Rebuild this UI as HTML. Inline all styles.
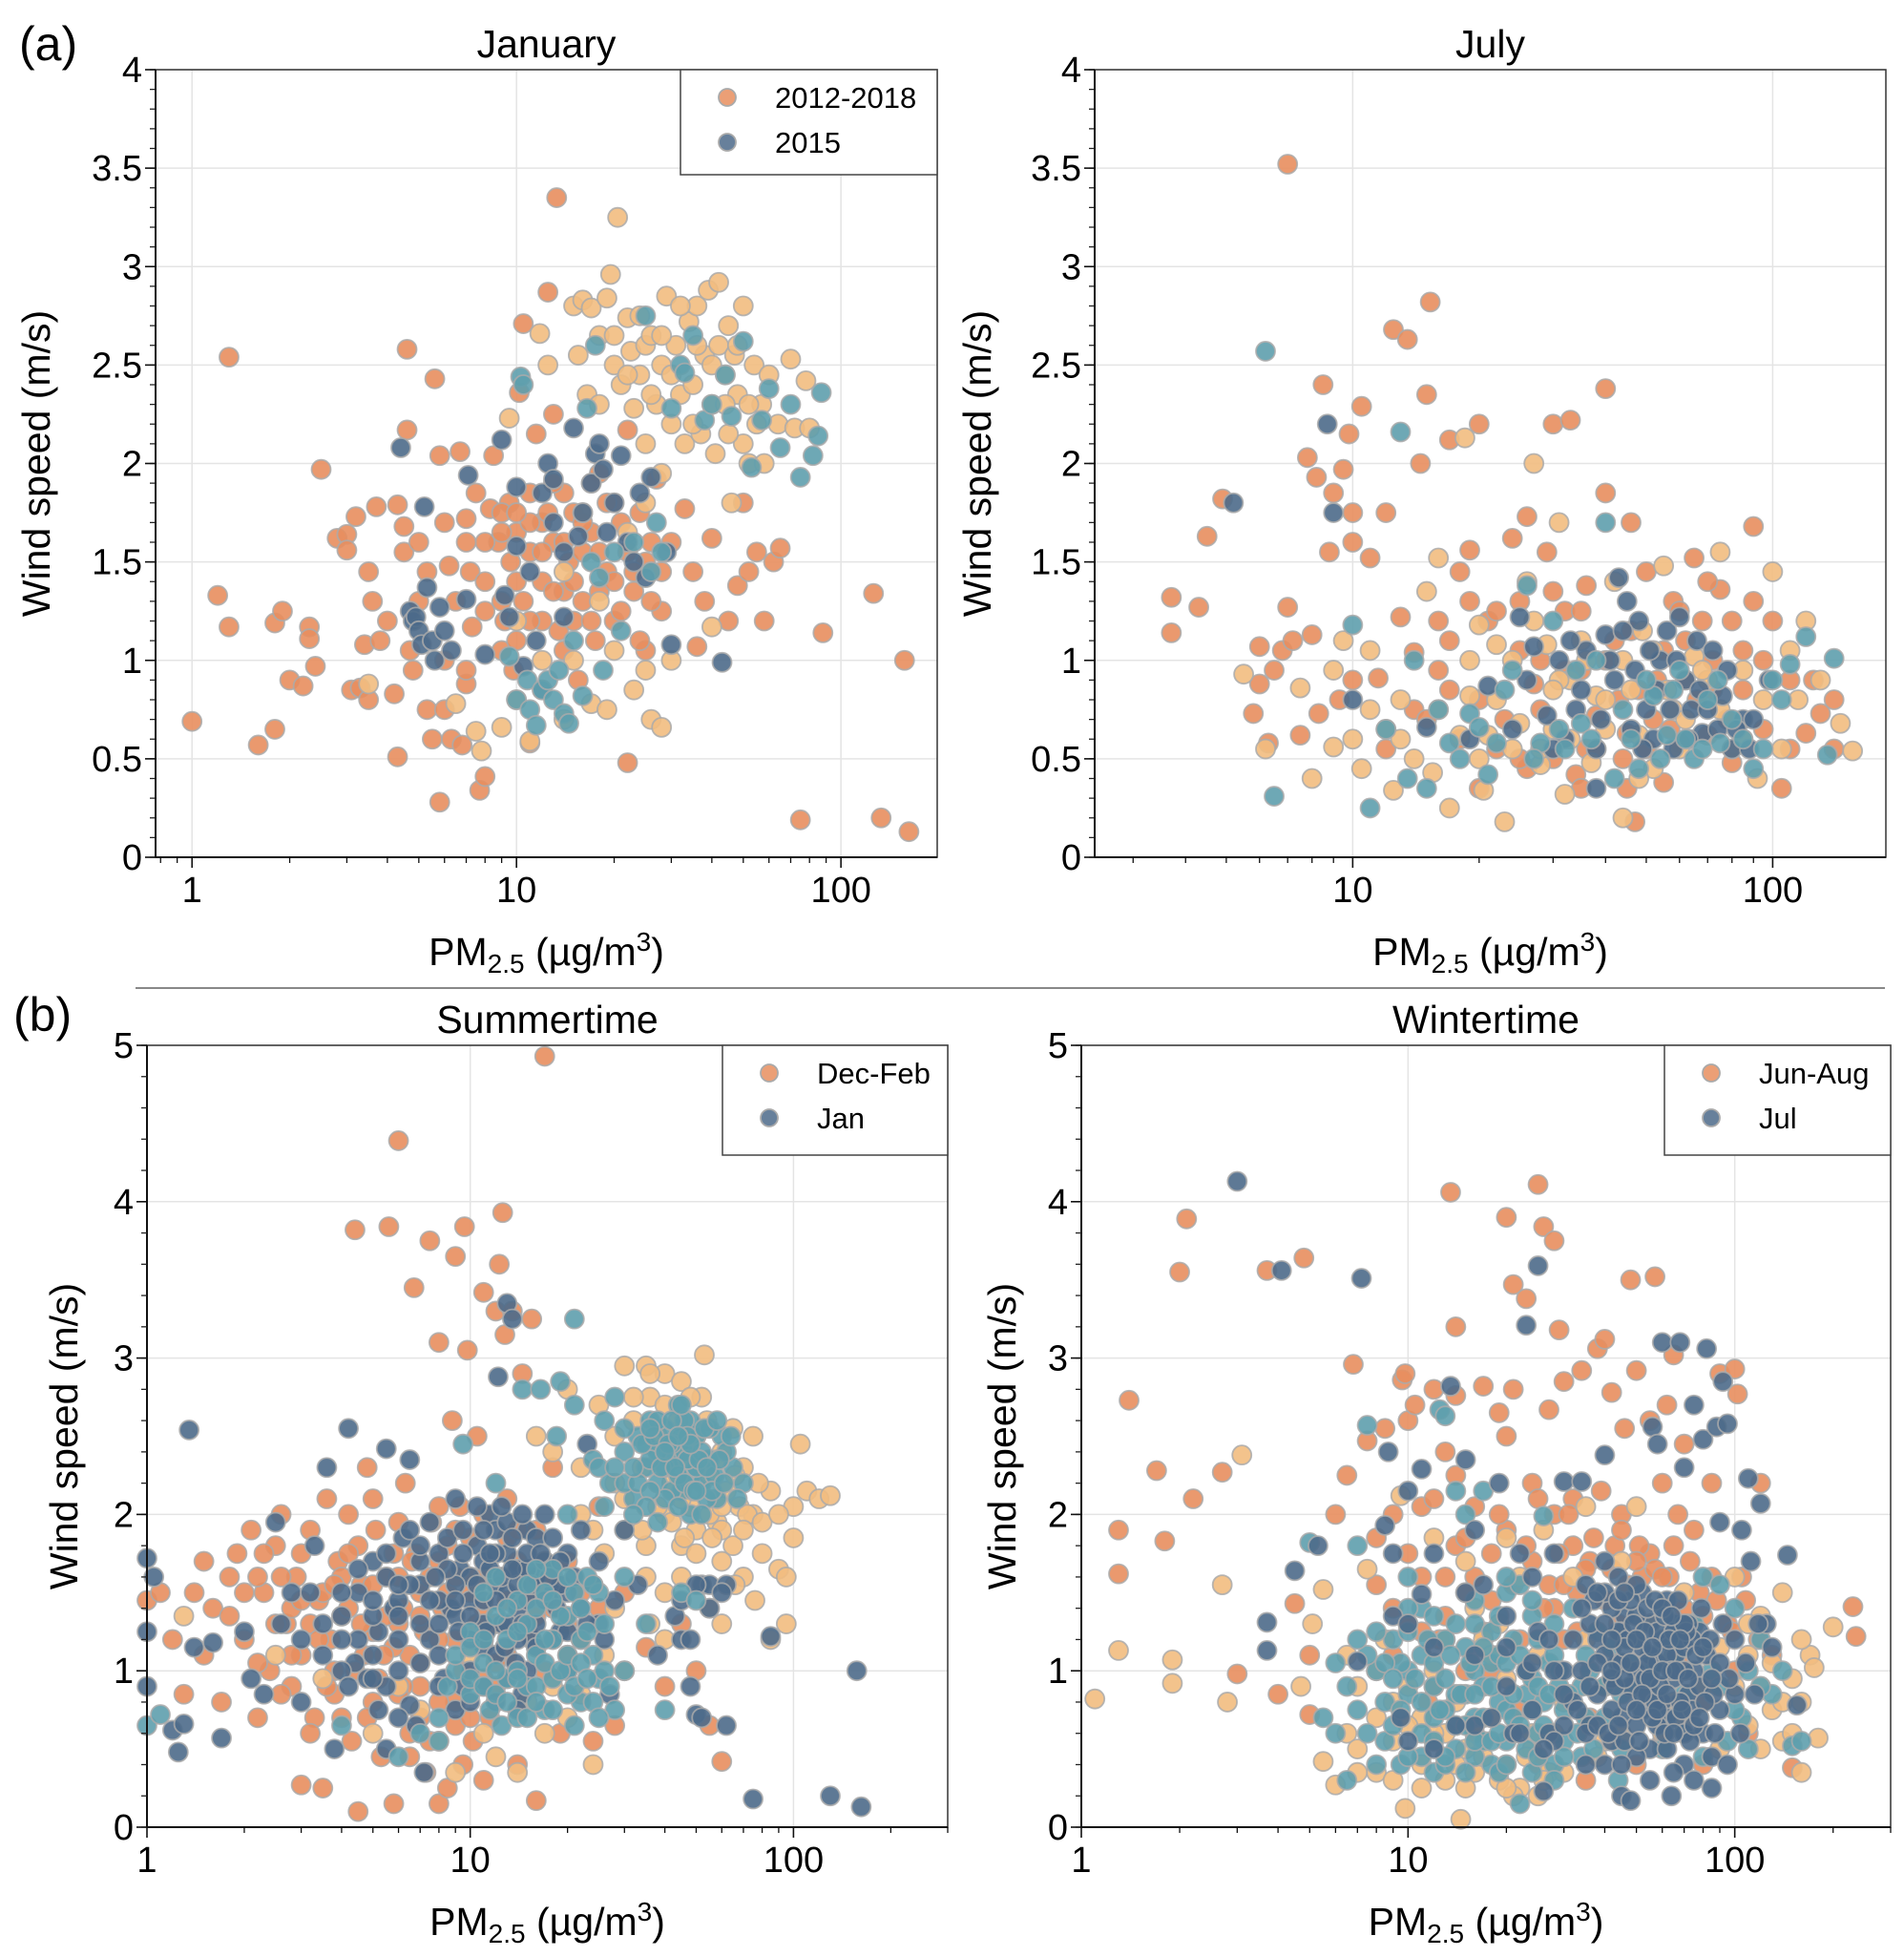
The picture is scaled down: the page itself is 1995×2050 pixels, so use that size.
<!DOCTYPE html>
<html><head><meta charset="utf-8">
<style>
html,body{margin:0;padding:0;background:#fff;}
svg{display:block;font-family:"Liberation Sans",Arial,sans-serif;}
</style></head>
<body>
<svg id="fig" width="1995" height="2050" viewBox="0 0 1995 2050" xmlns="http://www.w3.org/2000/svg">
<rect x="0" y="0" width="1995" height="2050" fill="#fff"/>
<text x="20" y="63" font-size="50">(a)</text>
<text x="14" y="1080" font-size="50">(b)</text>
<line x1="142" y1="1035" x2="1975" y2="1035" stroke="#888" stroke-width="2"/>
</svg>
<script>
// ---------- DATA ----------
const janOrange=[[1,0.69],[1.2,1.33],[1.3,2.54],[1.3,1.17],[1.6,0.57],[1.8,0.65],[1.8,1.19],[1.9,1.25],[2,0.9],[2.2,0.87],[2.3,1.17],[2.3,1.11],[2.4,0.97],[2.5,1.97],[2.8,1.62],[3,1.64],[3,1.56],[3.2,1.73],[3.1,0.85],[3.3,0.86],[3.4,1.08],[3.5,0.8],[3.6,1.3],[3.7,1.78],[3.8,1.1],[4.2,0.83],[4.3,0.51],[4.3,1.79],[4.5,1.68],[4.5,1.55],[4.6,2.58],[4.6,2.17],[4.7,1.05],[4.8,0.95],[5,1.6],[5.3,1.45],[5.3,0.75],[5.5,0.6],[5.6,2.43],[5.8,2.04],[5.8,0.28],[6,1.7],[6.2,1.48],[6.3,0.6],[6.5,1.3],[6.7,2.06],[6.8,0.57],[7,1.72],[7,0.88],[7.2,1.45],[7.3,1.17],[7.5,1.85],[7.7,0.34],[8,1.4],[8,0.41],[8.3,1.77],[8.5,2.04],[8.8,1.6],[9,1.05],[9.2,1.2],[9.5,1.8],[9.6,1.5],[9.8,0.95],[10,1.65],[10.2,2.36],[10.5,1.3],[10.5,2.71],[11,1.85],[11,0.58],[11.5,2.15],[12,1.7],[12,1.4],[12.5,2.87],[13,1.6],[13,2.25],[13.3,3.35],[13.5,1.15],[14,1.85],[14.5,1.5],[15,1.75],[15.5,0.9],[16,1.3],[17,1.65],[17.5,1.1],[18,1.95],[19,1.45],[20,1.2],[21,1.7],[22,2.17],[22,0.48],[23,1.35],[25,1.5],[25,1.05],[27,1.92],[28,1.25],[30,1.6],[33,1.77],[35,1.45],[36,1.07],[38,1.3],[40,1.62],[45,1.2],[48,1.38],[50,1.8],[52,1.45],[55,1.55],[58,1.2],[62,1.5],[65,1.57],[75,0.19],[88,1.14],[126,1.34],[133,0.2],[157,1.0],[162,0.13],[8,1.6],[9,1.3],[10,1.4],[11,1.55],[12,1.2],[13,1.9],[14,1.35],[15,1.2],[16,1.55],[17,1.9],[18,1.35],[20,1.8],[22,1.55],[24,1.75],[26,1.6],[11,1.7],[10,1.1],[9,1.75],[14,1.05],[12.5,1.75]];
const janOrange2=[[6,1.0],[7,1.6],[8,1.25],[9,1.65],[10,1.75],[11,1.2],[12,1.55],[13,1.35],[14,1.6],[15,1.4],[16,1.7],[17,1.2],[18,1.55],[19,1.8],[20,1.4],[21,1.25],[23,1.45],[24,1.1],[26,1.3],[28,1.45],[6,0.75],[7,0.95],[5,1.3],[4,1.2],[3.5,1.45]];
const janLight=[[3.5,0.88],[6.5,0.78],[7.5,0.64],[7.8,0.54],[9,0.66],[9.5,2.23],[10,0.8],[11,0.59],[11.8,2.66],[12.5,2.5],[14,0.7],[15,2.8],[15.5,2.55],[16,2.83],[16.5,2.35],[17,2.79],[17,0.78],[18,2.65],[19,2.84],[19.5,2.96],[19,0.75],[20,2.5],[20.5,3.25],[21,2.4],[22,2.74],[22.5,2.57],[23,2.28],[23,0.85],[24,2.45],[25,2.6],[25,2.1],[26,2.65],[26,0.7],[27,2.3],[28,2.5],[28,0.66],[29,2.85],[30,2.2],[31,2.6],[32,2.35],[33,2.1],[34,2.72],[35,2.4],[36,2.8],[37,2.15],[38,2.55],[39,2.88],[40,2.3],[41,2.05],[42,2.6],[42,2.92],[44,2.45],[45,2.7],[46,1.8],[47,2.55],[48,2.35],[50,2.8],[50,2.1],[52,2.0],[54,2.5],[57,2.3],[58,2.0],[60,2.45],[64,2.2],[70,2.53],[72,2.18],[78,2.42],[80,2.18],[40,1.17],[30,1.0],[25,0.95],[20,1.05],[15,1.0],[18,1.3],[22,1.65],[12,1.0],[14,1.45],[16,1.75],[10,1.2]];
const janLight2=[[20,2.65],[24,2.75],[28,2.65],[32,2.8],[36,2.6],[40,2.5],[44,2.3],[48,2.6],[52,2.3],[30,2.45],[26,2.35],[22,2.45],[18,2.3],[35,2.2],[45,2.15],[55,2.2],[25,1.8],[28,1.95]];
const janDark=[[4.4,2.08],[4.7,1.25],[4.8,1.2],[4.9,1.22],[5,1.15],[5.1,1.08],[5.2,1.78],[5.3,1.37],[5.5,1.1],[5.6,1.0],[5.8,1.27],[6,1.15],[6.3,1.05],[7,1.31],[7.1,1.94],[8,1.03],[9,2.12],[9.2,1.33],[9.5,1.22],[10,1.88],[10,1.58],[10.5,0.97],[11,1.45],[11.5,1.1],[12,1.85],[12.5,2.0],[12,0.85],[13,1.7],[13,1.92],[14,1.55],[14,1.22],[15,2.18],[15.5,1.63],[16,1.75],[17,1.9],[17.5,2.05],[18,2.1],[18.5,1.97],[19,1.65],[20,1.8],[21,2.04],[22,1.6],[23,1.5],[24,1.85],[25,1.42],[26,1.93],[29,1.55],[30,1.08],[43,0.99]];
const janTeal=[[9.5,1.02],[10,0.8],[10.3,2.44],[10.5,2.4],[10.8,0.9],[11,0.75],[11.5,0.67],[12,0.85],[12.5,0.9],[13,0.8],[13.5,0.95],[14,0.73],[14.5,0.68],[15,1.1],[16,0.82],[16.5,2.28],[17,1.5],[17.5,2.6],[18,1.42],[18.5,0.95],[20,1.55],[21,1.15],[23,1.6],[25,2.75],[26,1.45],[27,1.7],[28,1.55],[30,2.28],[32,2.5],[33,2.46],[35,2.65],[38,2.22],[40,2.3],[44,2.45],[46,2.24],[50,2.62],[53,1.98],[57,2.22],[60,2.38],[65,2.08],[70,2.3],[75,1.93],[82,2.04],[85,2.14],[87,2.36]];

const julOrange=[[3.7,1.32],[3.7,1.14],[4.3,1.27],[4.5,1.63],[4.9,1.82],[5.8,0.73],[6,1.07],[6,0.88],[6.3,0.58],[6.5,0.95],[6.8,1.05],[7,3.52],[7,1.27],[7.2,1.1],[7.5,0.62],[7.8,2.03],[8,1.13],[8.2,1.93],[8.3,0.73],[8.5,2.4],[8.8,1.55],[9,1.85],[9.3,0.8],[9.5,1.97],[9.8,2.15],[10,1.6],[10,1.75],[10.5,2.29],[11,1.52],[11.5,0.91],[12,1.75],[12.5,2.68],[13,1.22],[13.5,2.63],[14,1.04],[14.5,2.0],[15,2.35],[15.3,2.82],[16,1.2],[17,2.12],[17,0.85],[18,1.45],[19,1.56],[20,2.2],[21,1.2],[22,0.55],[23,0.7],[24,1.62],[25,1.3],[26,1.73],[27,0.88],[28,1.0],[29,1.55],[30,2.2],[32,1.25],[33,2.22],[35,0.95],[36,1.38],[38,0.72],[40,2.38],[40,1.85],[42,1.1],[44,0.5],[45,0.63],[46,1.7],[48,0.85],[50,1.45],[52,0.7],[55,1.05],[58,1.3],[60,0.58],[62,0.9],[65,1.52],[68,1.2],[70,0.62],[72,0.85],[75,1.36],[80,0.48],[85,1.05],[90,1.68],[95,0.65],[100,1.2],[105,0.35],[110,0.9],[120,0.63],[130,0.73],[140,0.8],[26,0.45],[34,0.42],[47,0.18],[36,0.55],[55,0.38]];
const julOrange2=[[10,0.9],[12,0.55],[14,0.75],[16,0.95],[18,0.6],[20,0.8],[22,1.25],[25,1.05],[28,0.75],[30,1.35],[32,0.95],[35,1.25],[38,0.55],[40,1.0],[43,0.8],[46,1.15],[50,0.55],[53,0.9],[57,0.65],[62,1.1],[66,0.8],[72,1.0],[78,0.7],[85,0.85],[95,1.0],[110,0.55],[125,0.9],[140,0.55],[45,0.35],[35,0.35],[25,0.5],[30,0.5],[60,1.25],[70,1.4],[80,1.2],[90,1.3],[20,0.35],[15,0.7],[17,1.1],[19,1.3]];
const julLight=[[5.5,0.93],[6.2,0.55],[7.5,0.86],[8,0.4],[9,0.56],[9.5,1.1],[10,0.6],[10.5,0.45],[11,1.05],[12,0.65],[12.5,0.34],[13,0.8],[14,0.5],[15,1.35],[15.5,0.43],[16,1.52],[17,0.25],[18,0.62],[18.5,2.13],[19,0.82],[20,1.18],[20.5,0.34],[21,0.62],[22,1.08],[23,0.18],[24,1.0],[25,0.68],[26,1.4],[27,2.0],[28,0.47],[29,1.08],[30,0.65],[31,1.7],[32,0.32],[33,0.9],[35,1.1],[37,0.48],[40,0.65],[42,1.4],[44,0.2],[46,0.85],[49,1.15],[52,0.45],[55,1.48],[58,0.75],[60,0.55],[65,1.02],[70,0.9],[75,1.55],[80,0.55],[85,0.95],[92,0.4],[100,1.45],[105,0.55],[115,0.8],[130,0.9],[145,0.68],[155,0.54],[28,0.55],[38,0.82],[48,0.62],[20,0.5],[31,0.9]];
const julLight2=[[9,0.95],[11,0.75],[13,0.6],[16,0.75],[19,1.0],[22,0.8],[24,0.55],[27,1.2],[30,0.85],[33,0.6],[36,1.0],[40,0.8],[44,1.0],[48,0.4],[52,1.05],[56,0.85],[62,0.7],[68,0.95],[75,0.75],[85,0.6],[95,0.8],[110,1.05],[120,1.2]];
const julDark=[[5.2,1.8],[8.7,2.2],[9,1.75],[10,0.8],[15,0.66],[19,0.6],[21,0.87],[24,0.65],[25,1.22],[27,1.07],[29,0.72],[31,1.0],[32,0.6],[34,0.75],[36,1.05],[38,0.55],[40,1.13],[42,0.9],[45,1.3],[46,0.65],[48,1.2],[50,0.75],[52,0.6],[54,1.0],[56,1.15],[58,0.55],[60,1.22],[62,0.9],[64,0.75],[66,1.1],[68,0.63],[72,1.05],[76,0.82],[80,0.55],[85,0.7],[90,0.7],[98,0.9],[43,1.42],[38,0.35]];
const julDark2=[[26,0.9],[30,0.55],[33,1.1],[35,0.85],[39,0.7],[41,1.0],[44,1.15],[47,0.95],[49,0.55],[51,1.05],[53,0.85],[57,0.75],[59,1.0],[63,0.6],[67,0.85],[70,0.75],[74,0.65],[78,0.95],[82,0.65],[88,0.55]];
const julTeal=[[6.5,0.31],[6.2,2.57],[10,1.18],[11,0.25],[12,0.65],[13,2.16],[13.5,0.4],[14,1.0],[15,0.35],[17,0.58],[18,0.5],[19,0.73],[20,0.66],[21,0.42],[22,0.58],[24,0.95],[26,1.38],[28,0.58],[30,1.2],[32,0.55],[35,0.68],[38,1.0],[40,1.7],[42,0.4],[44,0.75],[48,0.45],[52,0.82],[56,0.62],[60,0.95],[65,0.5],[70,0.8],[75,0.58],[80,0.7],[90,0.45],[100,0.9],[105,0.8],[120,1.12],[135,0.52],[140,1.01],[110,0.98]];
const julTeal2=[[16,0.75],[23,0.85],[27,0.5],[31,0.65],[34,0.95],[37,0.6],[46,0.6],[50,0.9],[54,0.5],[58,0.85],[62,0.6],[68,0.55],[74,0.9],[85,0.6],[95,0.55]];

const sumOrange=[[1,1.45],[1.1,1.5],[1.2,1.2],[1.3,0.85],[1.4,1.5],[1.5,1.7],[1.6,1.4],[1.7,0.8],[1.8,1.6],[1.9,1.75],[2,1.2],[2.1,1.9],[2.2,0.7],[2.3,1.5],[2.4,1.0],[2.5,1.8],[2.6,2.0],[2.7,1.3],[2.8,0.9],[2.9,1.6],[3,0.27],[3,1.1],[3.2,1.9],[3.3,0.7],[3.4,1.45],[3.5,0.25],[3.6,2.1],[3.7,1.2],[3.8,0.85],[3.9,1.7],[4,1.35],[4.2,2.0],[4.3,0.55],[4.4,3.82],[4.5,0.1],[4.6,1.55],[4.7,1.1],[4.8,2.3],[5,0.8],[5.1,1.9],[5.3,0.45],[5.5,1.6],[5.6,3.84],[5.8,0.15],[6,4.39],[6,1.3],[6.3,2.2],[6.5,0.6],[6.7,3.45],[6.8,1.75],[7,1.05],[7.3,0.35],[7.5,3.75],[7.6,1.95],[8,3.1],[8,0.15],[8.2,1.4],[8.5,0.25],[8.8,2.6],[9,0.8],[9,3.65],[9.3,2.05],[9.6,3.84],[9.8,3.05],[10,1.6],[10.2,0.55],[10.5,2.5],[11,3.42],[11,1.2],[11.5,0.7],[12,3.3],[12.3,3.6],[12.6,3.93],[12.8,3.15],[13,1.85],[13.5,3.3],[14,0.4],[14.5,2.9],[15,1.5],[15.5,3.25],[16,0.17],[17,4.93],[17,1.0],[18,2.3],[19,0.6],[20,1.7],[22,1.2],[24,0.55],[25,2.05],[28,0.65],[30,1.5],[35,1.15],[40,0.9],[45,1.3],[50,1.0],[55,0.65],[60,0.42],[7,1.5],[8,1.7],[9,1.2],[10,1.85],[11,1.6],[12,1.3],[13,1.1],[14,1.7],[15,1.25],[16,1.9],[5,1.25],[6,1.6],[7,0.9],[4,1.6],[3.5,1.5],[2.5,1.3],[3,1.75],[4.5,1.8],[5.5,1.35],[6.5,1.1],[8.5,1.5],[9.5,1.0],[10.5,1.3],[18,1.4],[20,1.1],[25,1.4],[12,0.9],[14,1.45],[16,1.55],[9,1.9],[11,2.0],[13,2.1],[8,2.05],[6,1.95],[3.2,1.3],[3.8,1.0],[4.2,1.4],[5,2.1],[6.2,0.9],[7.2,1.25],[2.2,1.6],[2.8,1.4],[4.8,0.7],[5.8,1.15]];
const sumOrange2=[[2,1.5],[2.3,1.75],[2.6,1.6],[3,1.45],[3.4,1.2],[3.8,1.55],[4.2,1.75],[4.6,1.3],[5,1.55],[5.4,1.1],[5.8,1.75],[6.2,1.4],[6.6,1.7],[7,1.35],[7.5,1.6],[8,1.2],[8.5,1.8],[9,1.6],[10,1.5],[11,1.4],[12,1.6],[13,1.45],[14,1.9],[15,1.6],[16,1.35],[17,1.7],[18,1.6],[20,1.3],[22,1.5],[2.8,1.1],[3.6,0.9],[4.4,1.0],[5.2,0.95],[6,0.85],[7,0.7],[8,0.8],[9,0.65],[10,0.7],[11,0.95],[12,1.05],[1.5,1.1],[1.8,1.35],[2.2,1.05],[2.6,0.85],[3.2,0.6],[4,0.7],[6.5,0.45],[7.5,0.55],[9.5,0.4],[11,0.3]];
const sumLight=[[1.3,1.35],[2.5,1.1],[3.5,0.95],[5,0.6],[6,0.9],[7,0.75],[8,0.55],[9,0.35],[10,1.1],[11,0.6],[12,0.45],[13,0.95],[14,0.35],[15,0.8],[16,1.15],[17,0.6],[18,0.9],[20,0.7],[22,0.85],[24,0.4],[26,1.1],[28,1.4],[30,2.95],[32,2.6],[34,2.3],[35,2.95],[36,2.75],[38,2.5],[40,2.9],[42,2.2],[44,2.6],[45,2.85],[46,2.35],[48,2.05],[50,2.5],[52,2.75],[53,3.02],[55,2.25],[58,1.95],[60,2.4],[62,2.15],[65,1.8],[70,2.3],[75,2.0],[80,1.75],[85,2.15],[90,1.65],[95,1.6],[100,2.05],[105,2.45],[110,2.15],[120,2.1],[130,2.12],[85,1.2],[95,1.3],[25,2.7],[28,2.2],[45,1.8],[55,1.4],[40,1.2],[35,1.6],[30,1.0],[20,2.8],[18,2.4],[22,2.0],[16,2.5],[60,1.3],[70,1.6],[75,2.5],[65,2.55],[40,2.0],[50,1.9],[60,1.9],[30,1.9],[35,1.8],[45,2.1],[55,2.0],[68,2.05],[78,2.2]];
const sumLight2=[[30,2.1],[34,1.9],[38,2.05],[42,1.95],[46,1.85],[50,1.75],[56,1.85],[60,2.05],[66,2.25],[72,2.0],[80,1.95],[90,2.0],[100,1.85],[28,2.5],[32,2.75],[36,2.9],[40,2.7],[44,2.45],[48,2.75],[54,2.6],[58,2.35],[66,1.55],[76,1.45],[24,1.9],[22,2.3],[26,1.75],[40,1.5],[45,1.6],[36,1.3],[60,1.7],[70,1.9]];
const sumDark=[[1,1.72],[1,1.25],[1,0.9],[1.05,1.6],[1.2,0.62],[1.25,0.48],[1.3,0.66],[1.35,2.54],[1.4,1.15],[1.6,1.18],[1.7,0.57],[2,1.25],[2.1,0.95],[2.3,0.85],[2.5,1.95],[2.6,1.3],[2.8,1.5],[3,0.8],[3.3,1.8],[3.5,1.1],[3.6,2.3],[3.8,0.5],[4,1.35],[4.2,2.55],[4.4,1.05],[4.5,1.5],[4.8,0.95],[5,1.7],[5.2,1.25],[5.5,2.42],[5.5,0.5],[5.8,1.4],[6,1.0],[6.2,1.85],[6.5,0.78],[6.5,2.35],[7,1.55],[7.2,0.35],[7.5,1.2],[8,1.75],[8.3,0.95],[8.7,1.4],[9,2.1],[9.3,1.65],[9.5,0.9],[10,1.45],[10.5,1.8],[11,1.15],[11.5,2.0],[12,1.55],[12.2,2.88],[12.5,1.3],[13,3.35],[13,1.75],[13.5,3.25],[14,1.4],[14.5,0.85],[15,1.9],[15.5,1.2],[16,1.6],[17,2.0],[18,1.5],[19,1.25],[20,1.75],[22,1.4],[23,2.45],[25,1.3],[27,0.85],[30,1.9],[33,1.55],[38,1.1],[43,1.35],[45,1.2],[48,1.2],[50,0.72],[52,1.55],[55,1.55],[62,1.55],[75,0.18],[85,1.22],[130,0.2],[157,1.0],[162,0.13],[10,1.6],[11,1.7],[12,1.9],[13,1.5],[14,1.65],[15,1.45],[16,1.85],[11,1.3],[9,1.55],[8,1.1],[7,1.3],[6,1.2],[5,1.1],[4.5,1.2],[5.5,0.9],[6,0.7],[20,1.5],[18,1.85],[10,1.2],[12,1.1],[14,1.2],[9,1.35],[8,1.45],[7,1.7],[6,1.45],[5,1.35],[4,1.0],[3.5,1.3],[11,1.9],[13,1.95],[15,1.65],[17,1.7],[19,1.55],[16,1.3],[10,1.0],[12,1.75]];
const sumDark2=[[4,1.5],[4.5,1.65],[5,1.45],[5.5,1.6],[6,1.35],[6.5,1.55],[7,1.8],[7.5,1.45],[8,1.3],[8.5,1.65],[9,1.45],[9.5,1.75],[10,1.35],[10.5,1.55],[11,1.45],[11.5,1.65],[12,1.45],[12.5,1.6],[13,1.3],[13.5,1.85],[14,1.55],[14.5,1.3],[15,1.75],[15.5,1.55],[16,1.15],[17,1.45],[18,1.2],[19,1.7],[20,1.25],[21,1.6],[22,1.9],[24,1.55],[26,1.2],[4,1.2],[5,0.95],[6,1.55],[7,1.05],[8,0.9],[9,0.75],[10,0.8],[11,0.9],[12,0.8],[13,0.95],[14,0.75],[15,1.0],[5.5,1.75],[6.5,1.9],[7.5,1.95],[8.5,1.85],[9.5,1.9],[10.5,2.05],[11.5,1.75],[12.5,2.05],[13.5,1.65],[14.5,2.0],[3,1.2],[3.2,1.5],[4.2,0.9],[5.2,0.75],[6.8,0.65],[7.8,1.6],[9.2,1.25],[11.2,1.25],[12.8,1.15],[13.8,1.05],[16.5,1.75],[17.5,1.6],[18.5,1.4],[20,1.0],[23,1.3],[25,1.7],[28,1.45],[45,1.45],[50,1.55],[55,1.4],[60,1.5],[48,0.9],[52,0.7],[62,0.65]];
const sumTeal=[[1,0.65],[1.1,0.72],[4,0.65],[6,0.45],[8,0.55],[8.5,0.9],[9,1.0],[9.5,2.45],[10,0.85],[11,1.05],[11.5,0.75],[12,2.2],[12.5,0.65],[13,0.95],[14,0.7],[14.5,2.8],[15,0.9],[16,1.1],[16.5,2.8],[17,0.75],[18,1.2],[18.5,2.5],[19,2.85],[20,1.0],[21,3.25],[21,2.7],[22,0.8],[23,1.6],[24,2.35],[25,0.95],[26,2.6],[27,2.2],[28,2.75],[30,2.4],[32,2.1],[33,2.5],[35,2.3],[36,2.6],[38,2.2],[40,2.55],[42,2.35],[44,2.7],[45,2.15],[46,2.4],[48,2.25],[50,2.5],[52,2.2],[55,2.35],[58,2.1],[60,2.5],[65,2.3],[70,2.2],[35,2.45],[40,2.3],[45,2.5],[50,2.3],[38,2.4],[42,2.15],[48,2.6],[55,2.55],[30,2.2],[25,2.3],[20,2.0],[17,1.5],[15,1.3],[14,1.45],[13,1.2],[12,1.35],[11,1.5],[10,1.25],[18,1.65],[16,1.4],[20,1.35],[22,1.2],[25,1.5],[30,1.6],[35,1.3],[28,0.75],[8,0.7],[7,0.6],[10,0.95],[12,1.0],[14,1.0],[16,0.9],[18,0.95],[20,0.85],[24,1.1],[26,1.0],[30,1.0],[40,0.75],[45,1.5],[50,1.45],[42,2.45],[47,2.35],[52,2.4],[36,2.35],[40,2.1],[44,2.25],[48,2.0],[54,2.1],[62,2.4],[33,2.2],[38,2.6],[46,2.6],[57,2.25]];
const sumTeal2=[[32,2.3],[34,2.45],[36,2.15],[37,2.5],[39,2.3],[41,2.45],[43,2.3],[44,2.05],[46,2.2],[47,2.5],[49,2.15],[51,2.35],[53,2.55],[56,2.15],[59,2.35],[61,2.2],[64,2.5],[67,2.1],[35,2.05],[38,1.95],[42,2.6],[45,2.7],[50,2.15],[54,2.3],[58,2.6],[30,2.55],[28,2.3],[26,2.05],[40,2.4],[48,2.45],[52,2.0],[44,2.5],[36,2.55],[32,2.0],[9,1.1],[10,1.15],[11,0.9],[12,0.85],[13,0.8],[14,0.95],[15,0.7],[16,0.8],[17,1.05],[18,0.75],[19,1.0],[20,1.1],[21,0.9],[22,1.05],[23,0.95],[24,0.8],[11,1.2],[13,1.4],[15,1.55],[17,1.2],[19,1.35],[21,1.5],[23,1.25],[12,1.6],[14,1.25],[16,1.65],[18,1.45],[20,1.6],[22,1.4],[24,1.55],[26,1.3],[27,0.9],[25,0.7],[21,0.65]];

const winOrange=[[1.3,1.9],[1.3,1.62],[1.4,2.73],[1.7,2.28],[1.8,1.83],[2,3.55],[2.1,3.89],[2.2,2.1],[2.7,2.27],[3,0.98],[3.7,3.56],[4,0.85],[4.5,1.43],[4.8,3.64],[5,0.72],[5,1.1],[6,2.0],[6.5,2.25],[6.8,2.96],[7.5,2.47],[8,1.85],[8.5,2.55],[9,1.4],[9.6,2.86],[9.8,2.9],[10,2.6],[10.5,2.7],[11,2.05],[11.5,0.8],[12,2.8],[12.5,1.2],[13,2.4],[13.5,4.06],[14,3.2],[14,2.76],[15,1.5],[16,0.6],[17,2.82],[18,1.0],[19,2.65],[20,3.9],[20,2.5],[21,3.47],[21,2.8],[22,1.2],[23,3.38],[24,2.2],[25,4.11],[25,0.4],[26,3.84],[27,2.67],[28,3.75],[28,1.4],[29,3.18],[30,2.85],[32,1.8],[34,2.92],[36,0.7],[38,3.06],[40,3.12],[42,2.78],[44,1.3],[46,2.55],[48,3.5],[50,2.92],[52,1.6],[55,2.6],[57,3.52],[60,2.2],[62,2.7],[65,3.02],[68,1.05],[70,2.45],[75,1.9],[80,0.4],[85,2.2],[90,2.9],[100,2.93],[102,2.77],[105,1.6],[120,2.2],[130,1.1],[150,0.38],[230,1.41],[235,1.22],[15,1.0],[10,1.3],[12,0.9],[18,1.45],[22,0.75],[30,1.2],[40,0.9],[60,0.55],[80,0.8],[35,0.3],[50,0.4],[20,0.4],[14,1.8],[16,1.6],[20,1.9],[24,1.7],[28,2.0],[32,2.1],[36,1.7],[45,2.0],[55,1.75],[70,1.4],[85,1.6],[9,1.1],[11,1.6],[13,1.35],[17,1.25],[26,1.4],[33,1.5],[42,1.65],[65,1.8],[95,1.3],[110,0.6]];
const winOrange2=[[8,1.55],[9,2.0],[10,1.75],[11,1.25],[12,2.1],[13,1.6],[14,2.25],[15,1.85],[16,2.05],[18,1.75],[19,2.0],[21,1.55],[23,1.8],[25,2.1],[27,1.55],[29,1.75],[31,2.0],[33,1.25],[37,1.85],[39,2.15],[43,1.8],[47,1.55],[51,1.8],[57,1.65],[63,1.6],[67,2.0],[73,1.7],[78,1.5],[88,1.45],[98,1.25],[108,1.45],[118,1.2],[30,1.55],[40,1.45],[50,1.7],[60,1.6],[80,1.35],[100,1.0],[45,1.9],[35,1.65]];
const winLight=[[1.1,0.82],[1.3,1.13],[1.9,1.07],[1.9,0.92],[2.7,1.55],[2.8,0.8],[3.1,2.38],[4.7,0.9],[5.1,1.3],[5.5,1.52],[5.5,0.42],[6,0.27],[6.5,0.6],[7,0.9],[7.5,1.65],[8,0.35],[8.5,1.2],[9,0.55],[9.5,2.12],[9.8,0.12],[10,0.9],[11,0.4],[12,1.85],[13,0.6],[14.5,0.05],[15,1.7],[16,0.35],[17,1.2],[18,0.7],[20,1.85],[22,0.25],[24,0.5],[25,0.2],[26,1.9],[30,0.8],[35,2.05],[40,0.55],[45,1.7],[50,2.05],[55,1.3],[60,0.6],[70,1.5],[80,0.9],[100,1.6],[110,1.1],[120,1.35],[130,0.75],[140,1.5],[150,0.95],[160,0.35],[170,1.1],[175,1.02],[180,0.57],[200,1.28],[12,1.0],[14,0.8],[16,1.4],[18,1.1],[20,0.95],[25,1.1],[28,0.6],[35,1.2],[45,0.6],[65,0.8],[90,1.15],[110,0.65],[6.5,1.1],[8,1.0],[9,0.8],[7,0.5],[11,0.7],[13,1.2],[15,0.5],[19,1.3],[22,1.6],[27,0.35],[32,1.6],[38,0.45],[120,0.9],[140,0.55],[160,0.8]];
const winLight2=[[7,0.35],[9,0.3],[11,0.25],[13,0.3],[15,0.25],[17,0.45],[19,0.3],[21,0.2],[23,0.45],[26,0.3],[30,0.35],[8,0.7],[10,0.65],[12,0.6],[14,0.4],[16,0.65],[20,0.25],[24,0.6],[100,0.9],[120,0.5],[130,1.05],[140,0.8],[150,0.6],[160,1.2],[110,1.3],[90,0.5],[70,0.7]];
const winTeal=[[5,1.82],[5.5,0.7],[6,1.05],[6,0.6],[6.5,0.3],[7,0.75],[7,1.8],[7.5,2.57],[8,1.0],[8.5,0.55],[9,1.2],[9.5,0.4],[10,1.6],[10,0.85],[11,0.6],[11,1.4],[12,0.35],[12,0.9],[12.5,2.67],[13,2.63],[13,1.2],[14,0.5],[14,2.15],[15,0.85],[15,2.0],[16,0.7],[16,1.3],[17,2.15],[18,0.4],[18,1.05],[19,0.8],[20,1.5],[20,0.55],[21,1.2],[22,1.55],[22,0.15],[23,0.85],[24,1.35],[25,0.6],[26,1.99],[27,1.05],[28,0.4],[30,0.75],[32,1.4],[34,0.45],[36,1.0],[40,0.7],[44,0.3],[50,0.9],[55,1.0],[60,0.7],[70,0.85],[80,1.6],[90,1.55],[95,0.55],[100,1.4],[110,1.0],[120,1.2],[130,0.85],[140,1.0],[150,0.52],[160,0.55],[14,0.85],[16,1.0],[18,1.25],[20,0.75],[24,0.95],[28,1.1],[12,0.7],[10,1.0],[17,0.55],[26,0.8],[7.5,1.1],[8.5,0.8],[9.5,1.05],[11,1.1],[13,0.75],[15,1.15],[17,0.9],[19,1.1],[21,0.7],[23,1.0],[25,0.9],[30,0.55],[34,0.9],[38,1.25],[45,0.85],[11,0.45],[13,0.4],[16,0.45],[19,0.35],[24,0.35],[29,0.9],[35,0.7],[65,1.1],[75,1.3],[85,1.0],[105,0.7]];
const winTeal2=[[6.5,0.9],[7,1.2],[7.5,0.6],[8,0.4],[8,1.25],[8.5,1.05],[9,0.65],[9,0.95],[9.5,0.75],[10,0.45],[10,1.25],[10.5,0.95],[11,0.8],[11.5,1.2],[12,0.55],[12,1.05],[12.5,0.75],[13,0.45],[13,0.95],[13.5,1.1],[14,0.65],[14,1.3],[14.5,0.85],[15,0.35],[15,0.65],[15.5,1.05],[16,0.55],[16,0.85],[17,0.7],[17,1.15],[18,0.55],[18,0.9],[19,0.6],[19,1.35],[20,0.4],[20,1.05],[21,0.85],[22,0.65],[22,1.1],[23,0.5],[24,0.75],[25,0.45],[25,1.2],[26,0.65],[27,0.85],[28,0.3],[29,1.0],[30,0.45],[31,0.85],[33,0.6],[35,1.1],[37,0.5],[40,0.9],[42,1.15],[45,0.5],[48,1.05],[55,0.85],[60,0.5],[70,0.6],[80,0.45],[90,0.9],[100,0.75],[110,0.5],[120,0.9],[16,1.45],[20,1.6],[24,1.45],[28,1.3],[12,1.35],[10,1.4]];
const winDark=[[3,4.13],[3.7,1.31],[3.7,1.13],[4.1,3.56],[4.5,1.64],[5.3,1.8],[7.2,3.51],[7,1.06],[8.5,1.93],[8.7,2.4],[9,1.75],[9,1.35],[9.5,0.7],[10,2.15],[10,1.3],[11,2.29],[11,1.49],[12,1.75],[12,0.5],[13.5,2.82],[15,2.35],[15,1.5],[16,1.9],[16,0.65],[17,1.55],[19,2.2],[20,1.35],[21,0.6],[22,1.75],[23,3.21],[23,1.0],[24,1.6],[25,3.59],[25,1.25],[26,0.23],[27,0.6],[28,1.75],[30,2.21],[30,1.0],[32,0.8],[34,2.21],[35,1.55],[36,0.65],[38,1.2],[40,1.7],[40,2.38],[42,0.55],[44,1.05],[45,0.2],[46,1.35],[48,0.17],[50,1.0],[52,0.75],[55,1.3],[56,2.56],[58,2.45],[60,0.8],[60,3.1],[62,1.45],[64,0.2],[66,1.1],[68,3.1],[70,2.3],[72,0.85],[75,2.7],[78,1.25],[80,2.48],[82,3.06],[85,0.25],[88,2.56],[90,1.95],[92,2.85],[95,2.58],[100,0.85],[105,1.9],[110,2.23],[112,1.7],[120,2.07],[125,1.3],[130,1.15],[145,1.74],[155,0.78],[40,1.1],[45,1.25],[50,1.35],[55,1.1],[60,1.2],[65,0.95],[70,1.15],[48,0.9],[38,0.85],[42,1.4],[52,1.5],[58,1.05],[62,0.7],[35,0.6],[30,0.65],[45,0.7],[55,0.5],[75,1.0],[80,0.6],[90,0.75],[28,0.55],[40,0.4],[50,0.45],[70,0.4],[45,1.05],[52,1.15],[48,1.45],[42,0.75],[36,1.3],[40,1.5],[44,1.6],[50,1.55],[54,1.4],[58,1.25],[62,1.1],[66,1.3],[70,1.0],[74,1.2],[78,0.9],[82,1.1],[86,0.85],[90,1.05],[34,1.0],[38,0.65],[42,0.95],[46,0.55],[50,0.65],[54,0.85],[58,0.65],[62,0.5],[66,0.7],[70,0.6],[74,0.75],[33,0.75],[37,1.45],[44,1.25],[47,1.2],[53,0.95],[57,0.8],[61,1.35],[65,1.25],[68,0.8],[72,1.3],[20,0.9],[24,0.75],[27,1.2]];
const winDark2=[[32,1.2],[34,1.4],[36,0.9],[38,1.05],[40,1.3],[41,0.6],[43,0.9],[44,1.45],[46,1.15],[47,0.8],[49,1.3],[51,0.55],[53,1.25],[54,1.05],[56,0.7],[57,1.45],[59,0.9],[61,0.6],[63,1.2],[64,1.0],[67,1.45],[69,0.75],[71,1.25],[73,0.55],[76,1.1],[79,1.4],[81,0.8],[84,1.2],[87,0.6],[92,1.3],[96,0.95],[100,1.2],[104,0.6],[108,1.05],[115,0.85],[118,1.3],[38,1.5],[42,1.2],[46,0.95],[50,1.2],[55,0.95],[60,1.0],[65,0.6],[70,1.3],[75,0.65],[80,1.15],[85,0.95],[45,0.4],[55,0.3],[65,0.35],[75,0.3],[85,0.45],[95,0.4],[35,0.4],[30,0.85],[28,1.0],[26,0.5],[24,1.05],[22,0.6],[20,1.15],[18,0.7],[16,1.1],[14,0.65],[12,1.15],[10,0.55],[42,1.0],[48,1.05],[52,0.85],[58,0.75],[62,0.85],[66,1.0],[72,0.95],[78,0.7],[44,0.65],[50,0.75],[56,1.15],[60,1.4],[64,1.35],[68,1.2],[46,1.5]];

// colours
const C={o:"#E88E5E",l:"#F2BC80",d:"#4C6A8A",t:"#5E9EAD"};

const svg=document.getElementById('fig');
const NS="http://www.w3.org/2000/svg";
function mk(tag,attrs,parent){const e=document.createElementNS(NS,tag);for(const k in attrs)e.setAttribute(k,attrs[k]);(parent||svg).appendChild(e);return e;}

function panel(cfg){
  const g=mk('g',{});
  
  
  const L=cfg.L,R=cfg.R,T=cfg.T,B=cfg.B;
  const lx0=Math.log10(cfg.xmin),lx1=Math.log10(cfg.xmax);
  const sx=v=>L+(Math.log10(v)-lx0)/(lx1-lx0)*(R-L);
  const sy=v=>B-(v-cfg.ymin)/(cfg.ymax-cfg.ymin)*(B-T);
  for(const v of cfg.xticks){if(v<cfg.xmin||v>cfg.xmax)continue;const l=mk('line',{x1:sx(v),x2:sx(v),y1:T,y2:B,stroke:"#e4e4e4","stroke-width":1.5},g);}
  for(const v of cfg.yticks){const l=mk('line',{x1:L,x2:R,y1:sy(v),y2:sy(v),stroke:"#e4e4e4","stroke-width":1.5},g);}
  const cg=mk('g',{},g);
  
  
  for(const s of cfg.series){
    for(const p of s.data){
      if(p[0]<cfg.xmin||p[0]>cfg.xmax)continue;
      const c=mk('circle',{cx:sx(p[0]),cy:sy(p[1]),r:10,fill:C[s.c],"fill-opacity":0.9,stroke:"#aaa","stroke-opacity":0.85,"stroke-width":1.8},cg);
      
      
    }
  }
  const fr=mk('rect',{x:L,y:T,width:R-L,height:B-T,fill:"none",stroke:"#333","stroke-width":1.5},g);
  
  
  mk('line',{x1:L,x2:L,y1:T,y2:B,stroke:"#111","stroke-width":2},g);
  mk('line',{x1:L,x2:R,y1:B,y2:B,stroke:"#111","stroke-width":2},g);
  for(let v=cfg.ymin;v<=cfg.ymax+1e-9;v+=cfg.yminor){mk('line',{x1:L-6,x2:L,y1:sy(v),y2:sy(v),stroke:"#222","stroke-width":1.3},g);}
  for(let i=0;i<cfg.yticks.length;i++){
    const v=cfg.yticks[i];
    mk('line',{x1:L-11,x2:L,y1:sy(v),y2:sy(v),stroke:"#111","stroke-width":1.6},g);
    const t=mk('text',{x:L-14,y:sy(v)+13,"font-size":cfg.tfs,"text-anchor":"end",fill:"#000"},g);
    t.textContent=cfg.ylabels[i];
    
    
  }
  for(let d=-1;d<=3;d++){for(let m=1;m<10;m++){const v=m*Math.pow(10,d);if(v<cfg.xmin||v>cfg.xmax)continue;
    const major=m===1;mk('line',{x1:sx(v),x2:sx(v),y1:B,y2:B+(major?11:6),stroke:"#111","stroke-width":major?1.6:1.3},g);}}
  for(let i=0;i<cfg.xticks.length;i++){
    const v=cfg.xticks[i]; if(v<cfg.xmin||v>cfg.xmax)continue;
    const t=mk('text',{x:sx(v),y:B+47,"font-size":cfg.tfs,"text-anchor":"middle",fill:"#000"},g);
    t.textContent=cfg.xlabels[i];
    
    
  }
  const tt=mk('text',{x:(L+R)/2,y:T-13,"font-size":41,"text-anchor":"middle",fill:"#000"},g);
  tt.textContent=cfg.title;
  
  
  const yl=mk('text',{x:0,y:0,"font-size":41,"text-anchor":"middle",fill:"#000",transform:`translate(${cfg.ylx},${(T+B)/2}) rotate(-90)`},g);
  yl.textContent="Wind speed (m/s)";
  
  
  const xl=mk('text',{x:(L+R)/2,y:B+113,"font-size":41,"text-anchor":"middle",fill:"#000"},g);
  
  
  const a=mk('tspan',{},xl);a.textContent="PM";
  const b=mk('tspan',{"font-size":28,dy:8},xl);b.textContent="2.5";
  const c=mk('tspan',{dy:-8},xl);c.textContent=" (µg/m";
  const d=mk('tspan',{"font-size":28,dy:-15},xl);d.textContent="3";
  const e=mk('tspan',{dy:15},xl);e.textContent=")";
  if(cfg.leg.items.length){
    const lg=mk('g',{},g);
    
    
    mk('rect',{x:cfg.leg.x,y:T,width:R-cfg.leg.x,height:cfg.leg.h,fill:"#fff",stroke:"#444","stroke-width":1.5},lg);
    cfg.leg.items.forEach((it,i)=>{
      const yy=T+29+i*47;
      const m=mk('circle',{cx:cfg.leg.x+49,cy:yy,r:9,fill:C[it.c],"fill-opacity":0.85,stroke:"#aaa","stroke-width":1.8},lg);
      
      
      const t=mk('text',{x:cfg.leg.x+99,y:yy+11,"font-size":31,fill:"#000"},lg);
      t.textContent=it.label;
      
      
    });
  }
}

const yA=[0,0.5,1,1.5,2,2.5,3,3.5,4], yAL=['0','0.5','1','1.5','2','2.5','3','3.5','4'];
panel({name:'january-panel',title:'January',L:163,R:982,T:73,B:898,xmin:0.772,xmax:198,ymin:0,ymax:4,
  xticks:[1,10,100],xlabels:['1','10','100'],yticks:yA,ylabels:yAL,yminor:0.1,tfs:38,ylx:52,
  series:[{data:[...janOrange,...janOrange2],c:'o',label:'jan-2012-2018'},{data:[...janLight,...janLight2],c:'l',label:'jan-2012-2018-light'},{data:janDark,c:'d',label:'jan-2015'},{data:janTeal,c:'t',label:'jan-2015-teal'}],
  leg:{x:713,h:110,items:[{c:'o',label:'2012-2018'},{c:'d',label:'2015'}]}});
panel({name:'july-panel',title:'July',L:1147,R:1976,T:73,B:898,xmin:2.43,xmax:186,ymin:0,ymax:4,
  xticks:[10,100],xlabels:['10','100'],yticks:yA,ylabels:yAL,yminor:0.1,tfs:38,ylx:1038,
  series:[{data:[...julOrange,...julOrange2],c:'o',label:'jul-orange'},{data:[...julLight,...julLight2],c:'l',label:'jul-light'},{data:[...julDark,...julDark2],c:'d',label:'jul-dark'},{data:[...julTeal,...julTeal2],c:'t',label:'jul-teal'}],
  leg:{x:1976,h:0,items:[]}});
panel({name:'summertime-panel',title:'Summertime',L:154,R:993,T:1095,B:1914,xmin:1,xmax:300,ymin:0,ymax:5,
  xticks:[1,10,100],xlabels:['1','10','100'],yticks:[0,1,2,3,4,5],ylabels:['0','1','2','3','4','5'],yminor:0.2,tfs:38,ylx:81,
  series:[{data:[...sumOrange,...sumOrange2],c:'o',label:'dec-feb'},{data:[...sumLight,...sumLight2],c:'l',label:'dec-feb-light'},{data:[...sumDark,...sumDark2],c:'d',label:'jan'},{data:[...sumTeal,...sumTeal2],c:'t',label:'jan-teal'}],
  leg:{x:757,h:115,items:[{c:'o',label:'Dec-Feb'},{c:'d',label:'Jan'}]}});
panel({name:'wintertime-panel',title:'Wintertime',L:1133,R:1981,T:1095,B:1914,xmin:1,xmax:300,ymin:0,ymax:5,
  xticks:[1,10,100],xlabels:['1','10','100'],yticks:[0,1,2,3,4,5],ylabels:['0','1','2','3','4','5'],yminor:0.2,tfs:38,ylx:1064,
  series:[{data:[...winOrange,...winOrange2],c:'o',label:'jun-aug'},{data:[...winLight,...winLight2],c:'l',label:'jun-aug-light'},{data:[...winTeal,...winTeal2],c:'t',label:'jul-teal'},{data:[...winDark,...winDark2],c:'d',label:'jul'}],
  leg:{x:1744,h:115,items:[{c:'o',label:'Jun-Aug'},{c:'d',label:'Jul'}]}});
</script>
</body></html>
